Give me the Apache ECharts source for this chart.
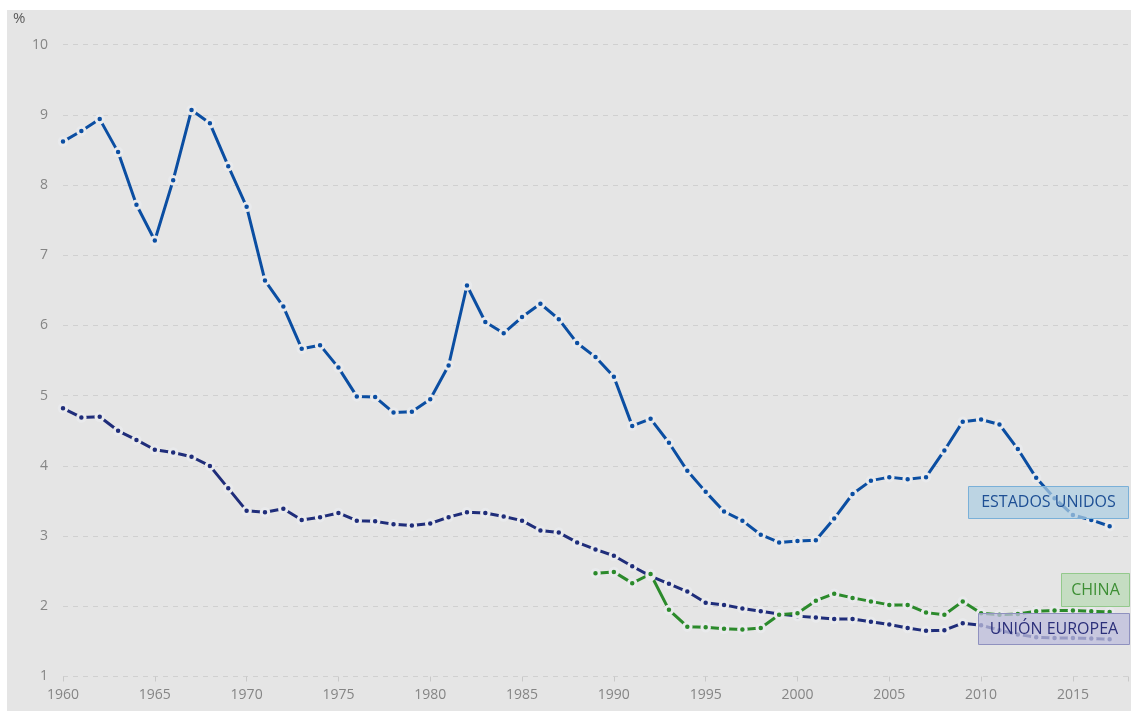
<!DOCTYPE html>
<html>
<head>
<meta charset="utf-8">
<script src="https://cdn.jsdelivr.net/npm/echarts@6/dist/echarts.min.js"></script>
<style>
  html, body { margin: 0; padding: 0; background: #ffffff; }
  #bg { position: absolute; left: 7px; top: 10px; width: 1124px; height: 701px; background: #e5e5e5; }
  #chart { position: absolute; left: 0; top: 0; width: 1131px; height: 711px; }
</style>
</head>
<body>
<div id="bg"></div>
<div id="chart"></div>
<script>
// ---- data ----
const yearsAll = [];
for (let y = 1960; y <= 2017; y++) yearsAll.push(y);
const yearsChina = [];
for (let y = 1989; y <= 2017; y++) yearsChina.push(y);

const estadosUnidos = [
  8.62, 8.77, 8.94, 8.47, 7.72, 7.21, 8.07, 9.07, 8.88, 8.27,
  7.69, 6.64, 6.27, 5.67, 5.72, 5.40, 4.99, 4.98, 4.76, 4.77,
  4.95, 5.43, 6.57, 6.05, 5.89, 6.12, 6.31, 6.09, 5.75, 5.55,
  5.27, 4.57, 4.67, 4.33, 3.93, 3.63, 3.35, 3.22, 3.02, 2.91,
  2.93, 2.94, 3.25, 3.60, 3.79, 3.84, 3.81, 3.84, 4.22, 4.63,
  4.66, 4.59, 4.24, 3.83, 3.54, 3.30, 3.23, 3.14
];
const unionEuropea = [
  4.82, 4.69, 4.70, 4.50, 4.37, 4.23, 4.19, 4.13, 4.00, 3.68,
  3.36, 3.34, 3.39, 3.23, 3.27, 3.33, 3.22, 3.21, 3.17, 3.15,
  3.18, 3.27, 3.34, 3.33, 3.28, 3.22, 3.08, 3.05, 2.91, 2.81,
  2.72, 2.57, 2.43, 2.32, 2.21, 2.05, 2.02, 1.97, 1.93, 1.89,
  1.86, 1.84, 1.82, 1.82, 1.78, 1.74, 1.69, 1.65, 1.66, 1.76,
  1.73, 1.66, 1.60, 1.56, 1.55, 1.55, 1.54, 1.53
];
const china = [
  2.47, 2.49, 2.33, 2.46, 1.95, 1.71, 1.70, 1.68, 1.67, 1.69,
  1.88, 1.90, 2.08, 2.18, 2.12, 2.07, 2.02, 2.02, 1.91, 1.88,
  2.07, 1.90, 1.88, 1.89, 1.93, 1.94, 1.94, 1.93, 1.92
];
const yTicks = [1, 2, 3, 4, 5, 6, 7, 8, 9, 10];
const seriesNames = ['ESTADOS UNIDOS', 'UNIÓN EUROPEA', 'CHINA'];

// ---- chart ----
const chart = echarts.init(document.getElementById('chart'), null, { renderer: 'canvas' });
const FONT = '"Open Sans", "Noto Sans", sans-serif';

function mk(name, years, vals, color) {
  return {
    name: name,
    type: 'line',
    data: years.map((y, i) => [y, vals[i]]),
    symbol: 'circle',
    symbolSize: 7.5,
    showSymbol: true,
    itemStyle: { color: color, borderColor: '#e9eaec', borderWidth: 3 },
    lineStyle: { color: color, width: 3 },
    emphasis: { disabled: true },
    animation: false
  };
}

function labelBox(x, y, w, h, text, fill, stroke, color) {
  return {
    type: 'group',
    left: x, top: y,
    z: 100, zlevel: 1,
    children: [
      { type: 'rect', z: 100, zlevel: 1, shape: { x: 0, y: 0, width: w, height: h },
        style: { fill: fill, stroke: stroke, lineWidth: 1 } },
      { type: 'text', z: 101, zlevel: 1, x: w / 2, y: h / 2,
        style: { text: text, fill: color, font: '16px ' + FONT, align: 'center', verticalAlign: 'middle' } }
    ]
  };
}

chart.setOption({
  animation: false,
  grid: { left: 63, right: 0, top: 44.7, bottom: 34.5, containLabel: false },
  xAxis: {
    type: 'value', min: 1960, max: 2018, interval: 5,
    axisLine: { show: false },
    axisTick: { show: true, length: 5, lineStyle: { color: '#c8c8c8' } },
    splitLine: { show: false },
    axisLabel: {
      color: '#858585', fontSize: 14, fontFamily: FONT, margin: 12,
      formatter: v => (v % 5 === 0 && v <= 2015) ? String(v) : ''
    }
  },
  yAxis: {
    type: 'value', min: yTicks[0], max: yTicks[yTicks.length - 1], interval: 1,
    axisLine: { show: false }, axisTick: { show: false },
    splitLine: { show: true, lineStyle: { color: '#d0d0d0', type: [5, 5], width: 1 } },
    axisLabel: { color: '#858585', fontSize: 14, fontFamily: FONT, margin: 15 }
  },
  series: [
    mk(seriesNames[1], yearsAll, unionEuropea, '#1f2d7a'),
    mk(seriesNames[2], yearsChina, china, '#2b8a2b'),
    mk(seriesNames[0], yearsAll, estadosUnidos, '#0b4ea2')
  ],
  graphic: [
    { type: 'text', left: 13, top: 11, style: { text: '%', fill: '#5a5a5a', font: '15px ' + FONT } },
    labelBox(968, 486, 160, 32, seriesNames[0], 'rgba(172,205,226,0.72)', '#7ab0d8', '#1e4f94'),
    labelBox(1061, 573, 68, 33, seriesNames[2], 'rgba(185,218,180,0.72)', '#93c98c', '#3d8f34'),
    labelBox(978, 613, 151, 31, seriesNames[1], 'rgba(189,189,219,0.76)', '#8f91bf', '#2b2f7a')
  ]
});
</script>
</body>
</html>
